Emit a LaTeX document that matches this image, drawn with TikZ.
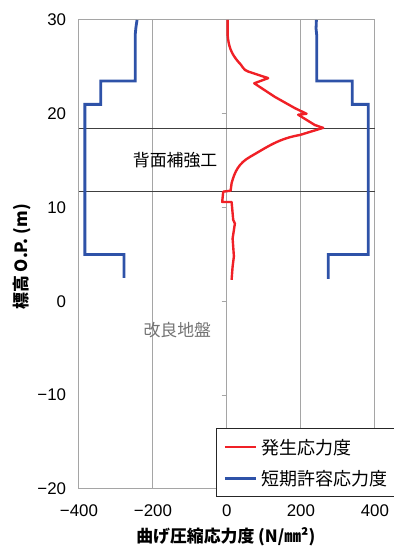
\documentclass[tikz,border=0pt]{standalone}
\usepackage{fontspec}
\setmainfont{Liberation Sans}
\newfontfamily\jpfont{Noto Sans CJK JP}
\usetikzlibrary{calc}
\definecolor{stressred}{RGB}{240,32,38}
\definecolor{allowblue}{RGB}{46,82,168}
\definecolor{gridgray}{RGB}{165,165,165}
\def\numfont{\fontsize{12}{14}\selectfont}
\def\jpsize{\jpfont\fontsize{12}{14}\selectfont}

\begin{document}
\begin{tikzpicture}[x=0.00925cm,y=0.2345cm,
	gridline/.style={gridgray,line width=0.7pt},
	levelline/.style={black!75,line width=0.7pt},
	redcurve/.style={stressred,line width=1.7pt,line join=round},
	bluecurve/.style={allowblue,line width=2pt,line join=miter},
	ticklabel/.style={font=\numfont,inner sep=0pt},
	jplabel/.style={font=\jpsize,inner sep=0pt}]
	%%%%% START %%%%%
	
	\useasboundingbox (-613.5,-26.4) rectangle (451.4,32.13);
	
	% grid and frame
	\foreach \gx in {-200,0,200}
		\draw[gridline] (\gx,-20) -- (\gx,30);
	\draw[gridline] (-400,-20) rectangle (400,30);
	\foreach \gy in {-20,-10,...,30}
		\draw[gridline] (-14,\gy) -- (0,\gy);
	
	% reinforced zone
	\draw[levelline] (-400,18.45) -- (400,18.45);
	\draw[levelline] (-400,11.73) -- (400,11.73);
	
	% allowable stress
	\draw[bluecurve] (-243,30) -- (-246,29.2) -- (-248,28.4) -- (-248,23.5) -- (-341,23.5) -- (-341,21) -- (-384,21) -- (-384,5) -- (-278,5) -- (-278,2.5);
	\draw[bluecurve] (242,30) -- (241,29.1) -- (243,28.3) -- (243,23.5) -- (339,23.5) -- (339,21) -- (382,21) -- (382,5) -- (274,5) -- (274,2.4);
	
	% stress
	\draw[redcurve] (1.9,30) -- (1.9,28.4) to[out=-85,in=130] (30.5,25.55) to[out=-40,in=165] (57.6,24.5)
		-- (111.6,23.8) -- (73.8,23.25) -- (129.7,21.8) -- (183.8,20.6) -- (215.4,20.0) -- (192.7,19.9)
		-- (237.8,18.8) -- (260.3,18.5) -- (197.3,17.74) to[out=-170,in=30] (62.2,15.4) to[out=-150,in=75] (12.7,12.6)
		-- (10,11.8) -- (-10,11.7) -- (-12.7,10.6) -- (12.7,10.6) -- (17,8.7) -- (21.6,8.3) -- (15.4,6.7)
		-- (18.9,4.8) -- (15.4,3.7) -- (12.7,2.3);
	
	% labels in the plot
	\node[jplabel] (zone) at (-140,15.07) {背面補強工};
	\node[jplabel,text=black!55] (ground) at (-134,-3.05) {改良地盤};
	
	% axes
	\foreach \gy/\txt [count=\i] in {30/30,20/20,10/10,0/0,-10/−10,-20/−20}
		\node[ticklabel,anchor=east] (ytick\i) at (-434,\gy) {\txt};
	\foreach \gx/\txt [count=\i] in {-400/−400,-200/−200,0/0,200/200,400/400}
		\node[ticklabel] (xtick\i) at (\gx,-22.3) {\txt};
	\node[jplabel,font=\jpsize\bfseries,rotate=90] (ytitle) at (-554,4.73) {標高 O.P. (m)};
	\node[jplabel,font=\jpsize\bfseries] (xtitle) at (-3,-25.1) {曲げ圧縮応力度 (N/㎜²)};
	
	% legend
	\draw[black!85,line width=0.7pt,fill=white] (-27.8,-20.82) rectangle (452,-13.53);
	\node[jplabel,font=\jpfont\fontsize{12.8}{14}\selectfont,anchor=west] (legred) at (94,-15.55) {発生応力度};
	\node[jplabel,font=\jpfont\fontsize{12.8}{14}\selectfont,anchor=west] (legblue) at (94,-18.86) {短期許容応力度};
	\coordinate (legredstart) at (-5.4,-15.55);
	\coordinate (legbluestart) at (-5.4,-18.86);
	\draw[redcurve] (legredstart) -- ([xshift=-4pt]legred.west);
	\draw[bluecurve] (legbluestart) -- ([xshift=-4pt]legblue.west);
	
	%%%%% END %%%%%
\end{tikzpicture}
\end{document}
